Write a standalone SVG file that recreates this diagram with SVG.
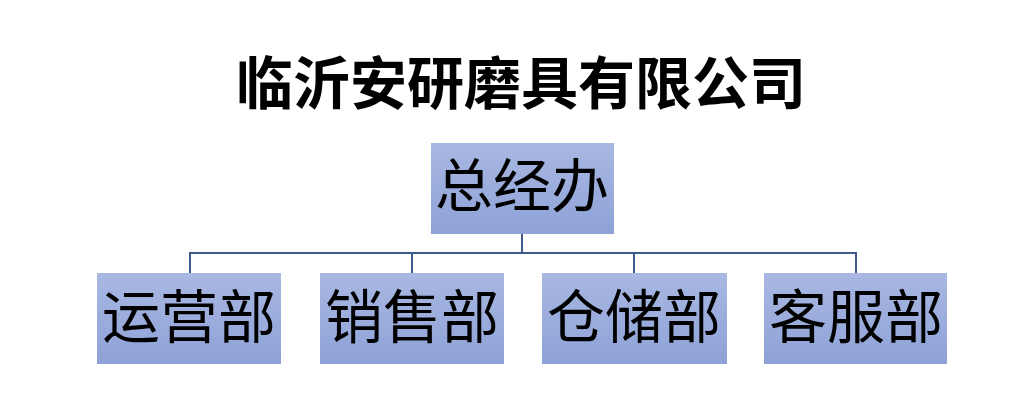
<svg xmlns="http://www.w3.org/2000/svg" width="1016" height="400" viewBox="0 0 1016 400">
<defs>
<linearGradient id="g" x1="0" y1="0" x2="0" y2="1">
<stop offset="0" stop-color="#a9b8e2"/>
<stop offset="1" stop-color="#8ea2d7"/>
</linearGradient>
<style>
.box{fill:url(#g);}
.t{font-family:"Noto Sans CJK SC","Noto Sans CJK JP",sans-serif;font-size:58px;fill:#000;text-anchor:middle;}
.title{font-family:"Noto Sans CJK SC","Noto Sans CJK JP",sans-serif;font-size:57px;font-weight:bold;fill:#000;text-anchor:middle;}
.c{fill:none;stroke:#3d5a8a;stroke-width:2;}
</style>
</defs>
<rect width="1016" height="400" fill="#fff"/>
<text class="title" x="521" y="104">临沂安研磨具有限公司</text>
<g id="connectors">
<path class="c" d="M522 234 V253 M190 273 V253 H856 V273 M412 253 V273 M634 253 V273"/>
</g>
<g id="n0"><rect class="box" x="431" y="143" width="183" height="91"/><text class="t" x="522" y="207">总经办</text></g>
<g id="n1"><rect class="box" x="97" y="273" width="184" height="91"/><text class="t" x="189" y="338">运营部</text></g>
<g id="n2"><rect class="box" x="320" y="273" width="184" height="91"/><text class="t" x="412" y="338">销售部</text></g>
<g id="n3"><rect class="box" x="542" y="273" width="185" height="91"/><text class="t" x="634" y="338">仓储部</text></g>
<g id="n4"><rect class="box" x="764" y="273" width="183" height="91"/><text class="t" x="856" y="338">客服部</text></g>
</svg>
